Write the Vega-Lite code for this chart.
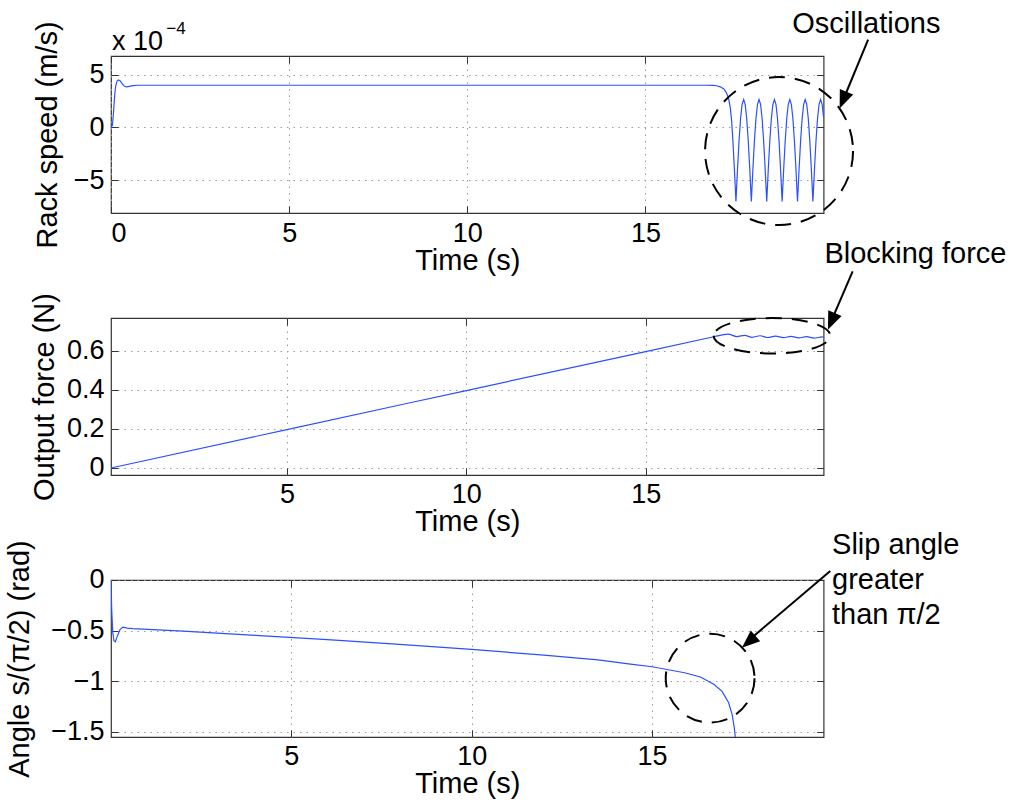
{
  "$schema": "https://vega.github.io/schema/vega-lite/v6.json",
  "background": "white",
  "padding": {"left": 5, "top": 9, "right": 5, "bottom": 5},
  "bounds": "flush",
  "spacing": 105,
  "config": {
    "font": "Liberation Sans",
    "view": {"stroke": "#333", "strokeWidth": 1.2},
    "axis": {
      "labelFont": "Liberation Sans", "labelFontSize": 27, "labelColor": "#000",
      "titleFont": "Liberation Sans", "titleFontSize": 29, "titleFontWeight": "normal", "titleColor": "#000",
      "domain": false, "tickColor": "#333", "tickSize": -7, "tickWidth": 1,
      "gridColor": "#999", "gridDash": [1.5, 5], "gridWidth": 1,
      "labelPadding": 14, "format": "~g"
    },
    "axisBottom": {"labelPadding": 14, "titlePadding": 0}
  },
  "vconcat": [
    {
      "width": 712.6, "height": 157,
      "resolve": {"axis": {"x": "independent", "y": "independent"}},
      "encoding": {
        "x": {"field": "t", "type": "quantitative", "scale": {"domain": [0, 20], "nice": false, "zero": false}, "axis": null},
        "y": {"field": "v", "type": "quantitative", "scale": {"domain": [-8.1, 6.77], "nice": false, "zero": false}, "axis": null}
      },
      "layer": [
        {
          "data": {"values": [
            {"t":0,"v":0},{"t":0.04,"v":0.2},{"t":0.07,"v":1.4},{"t":0.1,"v":2.9},{"t":0.13,"v":3.9},{"t":0.17,"v":4.4},{"t":0.21,"v":4.5},{"t":0.26,"v":4.4},{"t":0.32,"v":4.1},{"t":0.38,"v":3.9},{"t":0.44,"v":3.85},{"t":0.52,"v":3.9},{"t":0.62,"v":3.97},{"t":0.75,"v":4.0},{"t":5,"v":4.0},{"t":10,"v":4.0},{"t":15,"v":4.0},{"t":16.7,"v":4.0},{"t":16.9,"v":3.98},{"t":17.0,"v":3.95},{"t":17.1,"v":3.85},{"t":17.2,"v":3.65},{"t":17.27,"v":3.3},{"t":17.33,"v":2.8},{"t":17.38,"v":1.9},{"t":17.42,"v":0.6},{"t":17.455,"v":-1.3},{"t":17.497,"v":-4.0},
            {"t":17.54,"v":-7.0},{"t":17.583,"v":-4.0},{"t":17.626,"v":-1.3},{"t":17.67,"v":0.85},{"t":17.713,"v":2.2},{"t":17.756,"v":2.65},{"t":17.799,"v":2.2},{"t":17.842,"v":0.85},{"t":17.886,"v":-1.3},{"t":17.929,"v":-4.0},
            {"t":17.972,"v":-7.0},{"t":18.015,"v":-4.0},{"t":18.058,"v":-1.3},{"t":18.102,"v":0.85},{"t":18.145,"v":2.2},{"t":18.188,"v":2.65},{"t":18.231,"v":2.2},{"t":18.274,"v":0.85},{"t":18.318,"v":-1.3},{"t":18.361,"v":-4.0},
            {"t":18.404,"v":-7.0},{"t":18.447,"v":-4.0},{"t":18.49,"v":-1.3},{"t":18.534,"v":0.85},{"t":18.577,"v":2.2},{"t":18.62,"v":2.65},{"t":18.663,"v":2.2},{"t":18.706,"v":0.85},{"t":18.75,"v":-1.3},{"t":18.793,"v":-4.0},
            {"t":18.836,"v":-7.0},{"t":18.879,"v":-4.0},{"t":18.922,"v":-1.3},{"t":18.966,"v":0.85},{"t":19.009,"v":2.2},{"t":19.052,"v":2.65},{"t":19.095,"v":2.2},{"t":19.138,"v":0.85},{"t":19.182,"v":-1.3},{"t":19.225,"v":-4.0},
            {"t":19.268,"v":-7.0},{"t":19.311,"v":-4.0},{"t":19.354,"v":-1.3},{"t":19.398,"v":0.85},{"t":19.441,"v":2.2},{"t":19.484,"v":2.65},{"t":19.527,"v":2.2},{"t":19.57,"v":0.85},{"t":19.614,"v":-1.3},{"t":19.657,"v":-4.0},
            {"t":19.7,"v":-7.0},{"t":19.743,"v":-4.0},{"t":19.786,"v":-1.3},{"t":19.83,"v":0.85},{"t":19.873,"v":2.2},{"t":19.916,"v":2.65},{"t":19.959,"v":2.2},{"t":20.0,"v":0.95}
          ]},
          "mark": {"type": "line", "color": "#2b50ff", "strokeWidth": 1.2},
          "encoding": {
            "x": {"field": "t", "type": "quantitative", "scale": {"domain": [0, 20], "nice": false, "zero": false},
                  "axis": {"orient": "bottom", "values": [0, 5, 10, 15], "grid": true, "title": "Time (s)"}},
            "y": {"field": "v", "type": "quantitative", "scale": {"domain": [-8.1, 6.77], "nice": false, "zero": false},
                  "axis": {"orient": "left", "values": [-5, 0, 5], "grid": true, "title": "Rack speed (m/s)", "titlePadding": 11}}
          }
        },
        {
          "data": {"values": [{"t": 18.75, "v": -2.23}]},
          "mark": {"type": "point", "shape": "circle", "filled": false, "size": 21904, "color": "#000", "opacity": 1, "strokeWidth": 2, "strokeDash": [16, 10]},
          "encoding": {
            "x": {"field": "t", "type": "quantitative", "scale": {"domain": [0, 20], "nice": false, "zero": false},
                  "axis": {"orient": "top", "values": [0, 5, 10, 15], "labels": false, "grid": false, "title": null}},
            "y": {"field": "v", "type": "quantitative", "scale": {"domain": [-8.1, 6.77], "nice": false, "zero": false},
                  "axis": {"orient": "right", "values": [-5, 0, 5], "labels": false, "grid": false, "title": null}}
          }
        },
        {
          "data": {"values": [{"t": 0.03, "v": 7.33, "label": "x 10"}]},
          "mark": {"type": "text", "align": "left", "baseline": "alphabetic", "fontSize": 27, "color": "#000"},
          "encoding": {"text": {"field": "label"}}
        },
        {
          "data": {"values": [{"t": 1.55, "v": 8.9, "label": "−4"}]},
          "mark": {"type": "text", "align": "left", "baseline": "alphabetic", "fontSize": 17, "color": "#000"},
          "encoding": {"text": {"field": "label"}}
        },
        {
          "data": {"values": [{"t": 21.2, "v": 8.92, "label": "Oscillations"}]},
          "mark": {"type": "text", "align": "center", "baseline": "alphabetic", "fontSize": 29, "color": "#000"},
          "encoding": {"text": {"field": "label"}}
        },
        {
          "data": {"values": [{"t": 21.25, "v": 8.33}, {"t": 20.5, "v": 2.2}]},
          "mark": {"type": "line", "color": "#000", "strokeWidth": 2}
        },
        {
          "data": {"values": [{"t": 20.45, "v": 1.8}]},
          "mark": {"type": "point", "shape": "M0,0L-0.4,-1L0.4,-1Z", "filled": true, "size": 1296, "angle": 22.4, "color": "#000", "opacity": 1}
        }
      ]
    },
    {
      "width": 712.6, "height": 157,
      "resolve": {"axis": {"x": "independent", "y": "independent"}},
      "encoding": {
        "x": {"field": "t", "type": "quantitative", "scale": {"domain": [0.095, 19.96], "nice": false, "zero": false}, "axis": null},
        "y": {"field": "v", "type": "quantitative", "scale": {"domain": [-0.036, 0.769], "nice": false, "zero": false}, "axis": null}
      },
      "layer": [
        {
          "data": {"values": [
            {"t":0.095,"v":0.0},{"t":5,"v":0.197},{"t":10,"v":0.397},{"t":15,"v":0.597},{"t":16.9,"v":0.673},{"t":17.1,"v":0.681},{"t":17.3,"v":0.686},{"t":17.54,"v":0.674},{"t":17.76,"v":0.68},{"t":17.97,"v":0.67},{"t":18.19,"v":0.678},{"t":18.4,"v":0.669},{"t":18.62,"v":0.676},{"t":18.84,"v":0.668},{"t":19.05,"v":0.675},{"t":19.27,"v":0.667},{"t":19.48,"v":0.674},{"t":19.7,"v":0.666},{"t":19.92,"v":0.672},{"t":19.96,"v":0.671}
          ]},
          "mark": {"type": "line", "color": "#2b50ff", "strokeWidth": 1.2, "interpolate": "monotone"},
          "encoding": {
            "x": {"field": "t", "type": "quantitative", "scale": {"domain": [0.095, 19.96], "nice": false, "zero": false},
                  "axis": {"orient": "bottom", "values": [5, 10, 15], "grid": true, "title": "Time (s)"}},
            "y": {"field": "v", "type": "quantitative", "scale": {"domain": [-0.036, 0.769], "nice": false, "zero": false},
                  "axis": {"orient": "left", "values": [0, 0.2, 0.4, 0.6], "grid": true, "title": "Output force (N)", "titlePadding": 7}}
          }
        },
        {
          "data": {"values": [{"t": 18.52, "v": 0.678}]},
          "mark": {"type": "point", "shape": "M-1,0A1,0.304,0,1,0,1,0A1,0.304,0,1,0,-1,0Z", "filled": false, "size": 13596, "color": "#000", "opacity": 1, "strokeWidth": 2, "strokeDash": [16, 10]},
          "encoding": {
            "x": {"field": "t", "type": "quantitative", "scale": {"domain": [0.095, 19.96], "nice": false, "zero": false},
                  "axis": {"orient": "top", "values": [5, 10, 15], "labels": false, "grid": false, "title": null}},
            "y": {"field": "v", "type": "quantitative", "scale": {"domain": [-0.036, 0.769], "nice": false, "zero": false},
                  "axis": {"orient": "right", "values": [0, 0.2, 0.4, 0.6], "labels": false, "grid": false, "title": null}}
          }
        },
        {
          "data": {"values": [{"t": 22.52, "v": 1.051, "label": "Blocking force"}]},
          "mark": {"type": "text", "align": "center", "baseline": "alphabetic", "fontSize": 29, "color": "#000"},
          "encoding": {"text": {"field": "label"}}
        },
        {
          "data": {"values": [{"t": 20.77, "v": 1.008}, {"t": 20.12, "v": 0.73}]},
          "mark": {"type": "line", "color": "#000", "strokeWidth": 2}
        },
        {
          "data": {"values": [{"t": 20.08, "v": 0.709}]},
          "mark": {"type": "point", "shape": "M0,0L-0.4,-1L0.4,-1Z", "filled": true, "size": 1296, "angle": 22.9, "color": "#000", "opacity": 1}
        }
      ]
    },
    {
      "width": 712.6, "height": 157,
      "resolve": {"axis": {"x": "independent", "y": "independent"}},
      "encoding": {
        "x": {"field": "t", "type": "quantitative", "scale": {"domain": [0, 19.755], "nice": false, "zero": false}, "axis": null},
        "y": {"field": "v", "type": "quantitative", "scale": {"domain": [-1.551, 0], "nice": false, "zero": false}, "axis": null}
      },
      "layer": [
        {
          "data": {"values": [
            {"t":0,"v":0},{"t":0.02,"v":-0.3},{"t":0.05,"v":-0.52},{"t":0.08,"v":-0.6},{"t":0.12,"v":-0.61},{"t":0.18,"v":-0.55},{"t":0.25,"v":-0.49},{"t":0.33,"v":-0.465},{"t":0.45,"v":-0.475},{"t":0.6,"v":-0.48},{"t":2,"v":-0.505},{"t":4,"v":-0.548},{"t":6,"v":-0.59},{"t":8,"v":-0.635},{"t":10,"v":-0.686},{"t":12,"v":-0.742},{"t":13.5,"v":-0.79},{"t":14.4,"v":-0.832},{"t":15,"v":-0.857},{"t":15.9,"v":-0.916},{"t":16.34,"v":-0.958},{"t":16.71,"v":-1.03},{"t":16.94,"v":-1.1},{"t":17.12,"v":-1.21},{"t":17.22,"v":-1.33},{"t":17.28,"v":-1.46},{"t":17.32,"v":-1.6},{"t":17.34,"v":-1.7}
          ]},
          "mark": {"type": "line", "color": "#2b50ff", "strokeWidth": 1.2, "clip": true},
          "encoding": {
            "x": {"field": "t", "type": "quantitative", "scale": {"domain": [0, 19.755], "nice": false, "zero": false},
                  "axis": {"orient": "bottom", "values": [5, 10, 15], "grid": true, "title": "Time (s)"}},
            "y": {"field": "v", "type": "quantitative", "scale": {"domain": [-1.551, 0], "nice": false, "zero": false},
                  "axis": {"orient": "left", "values": [-1.5, -1, -0.5, 0], "grid": true, "title": "Angle s/(π/2) (rad)", "titlePadding": 15.7}}
          }
        },
        {
          "data": {"values": [{"t": 16.61, "v": -0.97}]},
          "mark": {"type": "point", "shape": "circle", "filled": false, "size": 7885, "color": "#000", "opacity": 1, "strokeWidth": 2, "strokeDash": [16, 10]},
          "encoding": {
            "x": {"field": "t", "type": "quantitative", "scale": {"domain": [0, 19.755], "nice": false, "zero": false},
                  "axis": {"orient": "top", "values": [5, 10, 15], "labels": false, "grid": false, "title": null}},
            "y": {"field": "v", "type": "quantitative", "scale": {"domain": [-1.551, 0], "nice": false, "zero": false},
                  "axis": {"orient": "right", "values": [-1.5, -1, -0.5, 0], "labels": false, "grid": false, "title": null}}
          }
        },
        {
          "data": {"values": [{"t": 19.99, "v": 0.254, "label": "Slip angle\ngreater\nthan π/2"}]},
          "mark": {"type": "text", "align": "left", "baseline": "alphabetic", "fontSize": 29, "lineBreak": "\n", "lineHeight": 35, "color": "#000"},
          "encoding": {"text": {"field": "label"}}
        },
        {
          "data": {"values": [{"t": 19.94, "v": 0.089}, {"t": 17.6, "v": -0.62}]},
          "mark": {"type": "line", "color": "#000", "strokeWidth": 2}
        },
        {
          "data": {"values": [{"t": 17.49, "v": -0.669}]},
          "mark": {"type": "point", "shape": "M0,0L-0.4,-1L0.4,-1Z", "filled": true, "size": 1296, "angle": 49, "color": "#000", "opacity": 1}
        }
      ]
    }
  ]
}
